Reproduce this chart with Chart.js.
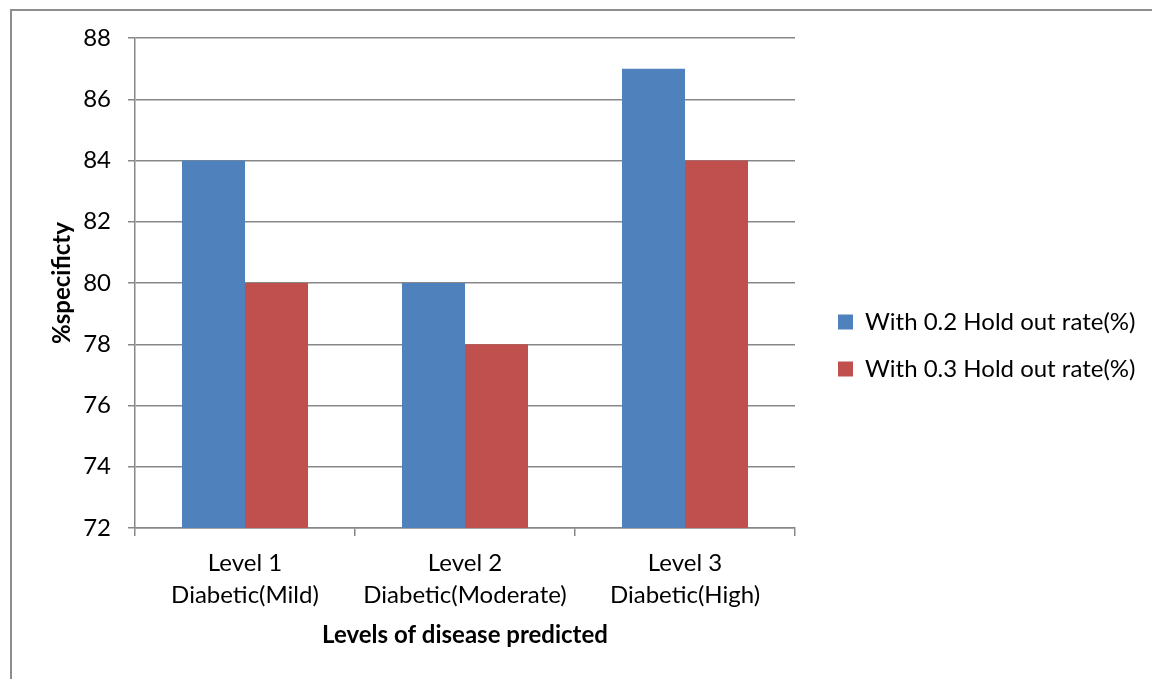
<!DOCTYPE html>
<html>
<head>
<meta charset="utf-8">
<script src="https://cdn.jsdelivr.net/npm/chart.js@4/dist/chart.umd.min.js"></script>
<style>
  html, body { margin: 0; padding: 0; background: #ffffff; }
  #wrap { position: relative; width: 1152px; height: 679px; }
  canvas { display: block; }
</style>
</head>
<body>
<div id="wrap"><canvas id="c" width="1152" height="679"></canvas></div>
<script>
const categories = [
  ['Level 1', 'Diabetic(Mild)'],
  ['Level 2', 'Diabetic(Moderate)'],
  ['Level 3', 'Diabetic(High)']
];
const seriesNames = ['With 0.2 Hold out rate(%)', 'With 0.3 Hold out rate(%)'];
const holdOut02 = [84, 80, 87];
const holdOut03 = [80, 78, 84];
const yMin = 72, yMax = 88, yStep = 2;
const xTitle = 'Levels of disease predicted';
const yTitle = '%specificty';

const FONT = 'Lato, "Open Sans", sans-serif';
const GRID = '#878787';

const framePlugin = {
  id: 'frame',
  beforeUpdate(chart) {
    const lg = chart.legend;
    if (lg && !lg._patched) {
      const orig = lg.fit;
      lg.fit = function () { orig.call(this); if (!this.isHorizontal()) this.width = 357; };
      lg._patched = true;
    }
  },
  afterLayout(chart) {
    const lg = chart.legend;
    if (lg) {
      const w = lg.width, h = lg.height;
      lg.left = chart.chartArea.right + 20; lg.right = lg.left + w;
      lg.top = 287; lg.bottom = lg.top + h;
    }
  },
  beforeDraw(chart) {
    const ctx = chart.ctx;
    ctx.save();
    ctx.fillStyle = '#ffffff';
    ctx.fillRect(0, 0, chart.width, chart.height);
    ctx.strokeStyle = '#8e8e8e';
    ctx.lineWidth = 2;
    ctx.beginPath();
    ctx.moveTo(11, chart.height);
    ctx.lineTo(11, 10);
    ctx.lineTo(chart.width, 10);
    ctx.stroke();
    ctx.restore();
  }
};

new Chart(document.getElementById('c'), {
  type: 'bar',
  data: {
    labels: categories,
    datasets: [
      { label: seriesNames[0], data: holdOut02, backgroundColor: '#4F81BD', borderWidth: 0 },
      { label: seriesNames[1], data: holdOut03, backgroundColor: '#C0504D', borderWidth: 0 }
    ]
  },
  options: {
    responsive: false,
    animation: false,
    devicePixelRatio: 1,
    datasets: { bar: { categoryPercentage: 126 / 220, barPercentage: 1 } },
    layout: { padding: { left: 0, right: 0, top: 38, bottom: 0 } },
    plugins: {
      legend: {
        position: 'right',
        align: 'start',
        labels: {
          boxWidth: 15, boxHeight: 15, padding: 23,
          color: '#000000',
          font: { family: FONT, size: 24 }
        }
      },
      tooltip: { enabled: false }
    },
    scales: {
      x: {
        afterFit(s) { s.height = 151; },
        grid: { display: true, drawOnChartArea: false, drawTicks: true, tickLength: 8, color: GRID, lineWidth: 1.5, offset: true },
        border: { display: true, color: GRID, width: 1.5 },
        ticks: { color: '#000000', padding: 12, maxRotation: 0, font: { family: FONT, size: 24, lineHeight: 1.3 } },
        title: { display: true, text: xTitle, color: '#000000', padding: { top: 0, bottom: 29 }, font: { family: FONT, size: 24, weight: 'bold', lineHeight: 1.2 } }
      },
      y: {
        min: yMin, max: yMax,
        afterFit(s) { s.width = 135; },
        grid: { color: GRID, lineWidth: 1.5, drawTicks: true, tickLength: 7 },
        border: { display: true, color: GRID, width: 1.5 },
        ticks: { stepSize: yStep, color: '#000000', padding: 17, font: { family: FONT, size: 24 } },
        title: { display: true, text: yTitle, color: '#000000', padding: { top: 48, bottom: 0 }, font: { family: FONT, size: 24, weight: 'bold', lineHeight: 1.2 } }
      }
    }
  },
  plugins: [framePlugin]
});
</script>
</body>
</html>
